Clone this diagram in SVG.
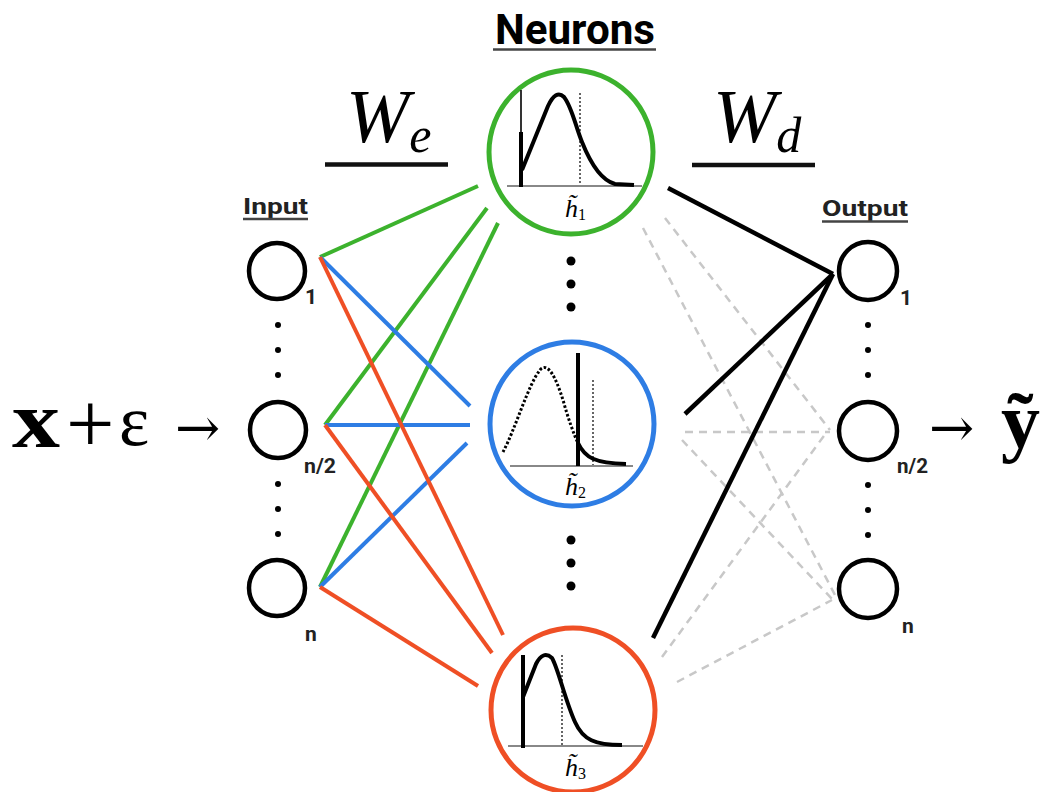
<svg xmlns="http://www.w3.org/2000/svg" width="1044" height="792" viewBox="0 0 1044 792">
  <style>
    .title { font-family: Roboto, "Liberation Sans", sans-serif; font-weight: bold; fill: #000; }
    .sub { font-family: Roboto, "Liberation Sans", sans-serif; font-weight: bold; fill: #222; }
    .math { font-family: "Liberation Serif", serif; font-style: italic; fill: #000; }
    .unit { fill: #fff; stroke: #000; stroke-width: 4.5; }
    .neuron { fill: #fff; stroke-width: 5; }
    .rule { stroke: #111; stroke-width: 4.5; }
    .uline { stroke: #444; stroke-width: 2.5; }
    .enc { stroke-width: 4; stroke-linecap: butt; fill: none; }
    .g { stroke: #3cb22d; }
    .b { stroke: #2e7de4; }
    .r { stroke: #ef4f25; }
    .dec { stroke: #000; stroke-width: 4.5; fill: none; }
    .skip { stroke: #c8c8c8; stroke-width: 2.5; stroke-dasharray: 8 6; fill: none; }
    .axis { stroke: #888; stroke-width: 1.8; }
    .curve { stroke: #000; stroke-width: 4; fill: none; stroke-linejoin: round; }
    .mean { stroke: #333; stroke-width: 1.5; stroke-dasharray: 2 2; }
    .dot { fill: #000; }
  </style>

  <!-- weight labels -->
  <g id="label-we">
    <text class="math" x="346" y="142" font-size="76">W<tspan font-size="50" dy="10">e</tspan></text>
    <line class="rule" x1="325" y1="164.5" x2="448" y2="164.5"/>
  </g>
  <g id="label-wd">
    <text class="math" x="713" y="142" font-size="76">W<tspan font-size="50" dy="10">d</tspan></text>
    <line class="rule" x1="692" y1="165" x2="815" y2="165"/>
  </g>
  <g id="label-neurons">
    <text class="title" x="575" y="44" font-size="42" text-anchor="middle" textLength="160" lengthAdjust="spacingAndGlyphs">Neurons</text>
    <line class="uline" x1="493" y1="49.5" x2="656" y2="49.5" stroke-width="3"/>
  </g>

  <!-- connectors -->
  <g id="connectors">
    <!-- encoder weights -->
    <line class="enc g" x1="320" y1="257" x2="478" y2="186"/>
    <line class="enc g" x1="325" y1="425" x2="487" y2="208"/>
    <line class="enc g" x1="320" y1="587" x2="498" y2="223"/>
    <line class="enc b" x1="320" y1="257" x2="470" y2="406"/>
    <line class="enc b" x1="325" y1="425" x2="470" y2="425"/>
    <line class="enc b" x1="320" y1="587" x2="467" y2="443"/>
    <line class="enc r" x1="320" y1="257" x2="503" y2="635"/>
    <line class="enc r" x1="325" y1="425" x2="492" y2="653"/>
    <line class="enc r" x1="320" y1="587" x2="478" y2="686"/>
    <!-- decoder weights, inactive -->
    <line class="skip" x1="665" y1="218" x2="830" y2="430"/>
    <line class="skip" x1="643" y1="228" x2="835" y2="595"/>
    <line class="skip" x1="685" y1="432" x2="830" y2="432"/>
    <line class="skip" x1="682" y1="440" x2="833" y2="600"/>
    <line class="skip" x1="662" y1="657" x2="826" y2="433"/>
    <line class="skip" x1="677" y1="682" x2="832" y2="600"/>
    <!-- decoder weights, active -->
    <line class="dec" x1="668" y1="188" x2="833" y2="274"/>
    <line class="dec" x1="685" y1="414" x2="833" y2="274"/>
    <line class="dec" x1="653" y1="638" x2="833" y2="274"/>
  </g>

  <!-- input layer -->
  <g id="input">
    <text class="sub" x="243" y="214" font-size="22" textLength="65" lengthAdjust="spacingAndGlyphs">Input</text>
    <line class="uline" x1="243" y1="219" x2="308" y2="219"/>
  </g>
  <g id="input-1">
    <circle class="unit" cx="277" cy="271" r="28"/>
    <text class="sub" x="305" y="304" font-size="21">1</text>
  </g>
  <g id="input-dots-1">
    <circle class="dot" cx="278" cy="325" r="3"/>
    <circle class="dot" cx="278" cy="350" r="3"/>
    <circle class="dot" cx="278" cy="375" r="3"/>
  </g>
  <g id="input-half">
    <circle class="unit" cx="278" cy="430" r="28"/>
    <text class="sub" x="304" y="473" font-size="21" textLength="32" lengthAdjust="spacingAndGlyphs">n/2</text>
  </g>
  <g id="input-dots-2">
    <circle class="dot" cx="278" cy="484" r="3"/>
    <circle class="dot" cx="278" cy="509" r="3"/>
    <circle class="dot" cx="278" cy="534" r="3"/>
  </g>
  <g id="input-n">
    <circle class="unit" cx="277" cy="588" r="28"/>
    <text class="sub" x="305" y="641" font-size="21">n</text>
  </g>

  <!-- noisy input -->
  <g id="input-expr">
    <text x="12" y="447" font-family="Liberation Serif, serif" font-weight="bold" font-size="80" textLength="48" lengthAdjust="spacingAndGlyphs">x</text>
    <text x="66" y="453" font-family="Liberation Serif, serif" font-size="86">+</text>
    <text x="119" y="445" font-family="Liberation Serif, serif" font-size="72">ε</text>
    <text x="175" y="446" font-family="DejaVu Serif, serif" font-size="54">→</text>
  </g>

  <!-- hidden neurons -->
  <g id="neuron-1">
    <circle class="neuron" cx="571" cy="152" r="82" stroke="#3cb22d"/>
    <line class="axis" x1="507" y1="186" x2="642" y2="186"/>
    <line x1="521" y1="90" x2="521" y2="186" stroke="#000" stroke-width="1.6"/>
    <line x1="521" y1="132" x2="521" y2="187" stroke="#000" stroke-width="4"/>
    <line class="mean" x1="580" y1="93" x2="580" y2="185"/>
    <path class="curve" d="M522,170 L548,106 Q556,89 564,97 C572,107 576,128 582,142 C590,162 600,180 615,184 L634,185"/>
    <text class="math" x="565" y="217" font-size="26">h̃<tspan font-style="normal" font-size="16" dy="3">1</tspan></text>
  </g>
  <g id="neuron-dots-1">
    <circle class="dot" cx="571" cy="261" r="4.5"/>
    <circle class="dot" cx="571" cy="284" r="4.5"/>
    <circle class="dot" cx="571" cy="307" r="4.5"/>
  </g>
  <g id="neuron-2">
    <circle class="neuron" cx="572" cy="424" r="82" stroke="#2e7de4"/>
    <line class="axis" x1="510" y1="466" x2="633" y2="466"/>
    <path d="M503,452 C515,430 528,385 540,370 C548,361 556,378 563,400 C568,418 574,435 578,443" fill="none" stroke="#000" stroke-width="3" stroke-dasharray="2.5 2"/>
    <line class="mean" x1="593" y1="380" x2="593" y2="465"/>
    <line x1="578" y1="353" x2="578" y2="466" stroke="#000" stroke-width="4"/>
    <path class="curve" d="M578,443 C585,458 595,463 626,464"/>
    <text class="math" x="565" y="495" font-size="26">h̃<tspan font-style="normal" font-size="16" dy="3">2</tspan></text>
  </g>
  <g id="neuron-dots-2">
    <circle class="dot" cx="571" cy="540" r="4.5"/>
    <circle class="dot" cx="571" cy="563" r="4.5"/>
    <circle class="dot" cx="571" cy="586" r="4.5"/>
  </g>
  <g id="neuron-3">
    <circle class="neuron" cx="573" cy="710" r="82" stroke="#ef4f25"/>
    <line class="axis" x1="508" y1="746" x2="643" y2="746"/>
    <line x1="523" y1="655" x2="523" y2="748" stroke="#000" stroke-width="4"/>
    <line class="mean" x1="562" y1="655" x2="562" y2="745"/>
    <path class="curve" d="M523,697 L536,664 Q543,650 552,658 C558,668 565,700 575,722 C583,740 595,745 622,745"/>
    <text class="math" x="565" y="776" font-size="26">h̃<tspan font-style="normal" font-size="16" dy="3">3</tspan></text>
  </g>

  <!-- output layer -->
  <g id="output">
    <text class="sub" x="822" y="216" font-size="22" textLength="86" lengthAdjust="spacingAndGlyphs">Output</text>
    <line class="uline" x1="822" y1="221.5" x2="908" y2="221.5"/>
  </g>
  <g id="output-1">
    <circle class="unit" cx="868" cy="271" r="29"/>
    <text class="sub" x="900" y="305" font-size="21">1</text>
  </g>
  <g id="output-dots-1">
    <circle class="dot" cx="868" cy="325" r="3"/>
    <circle class="dot" cx="868" cy="350" r="3"/>
    <circle class="dot" cx="868" cy="375" r="3"/>
  </g>
  <g id="output-half">
    <circle class="unit" cx="868" cy="431" r="29"/>
    <text class="sub" x="897" y="473" font-size="21" textLength="31" lengthAdjust="spacingAndGlyphs">n/2</text>
  </g>
  <g id="output-dots-2">
    <circle class="dot" cx="868" cy="485" r="3"/>
    <circle class="dot" cx="868" cy="510" r="3"/>
    <circle class="dot" cx="868" cy="535" r="3"/>
  </g>
  <g id="output-n">
    <circle class="unit" cx="868" cy="589" r="29"/>
    <text class="sub" x="902" y="633" font-size="21">n</text>
  </g>

  <!-- reconstruction -->
  <g id="output-expr">
    <text x="929" y="446" font-family="DejaVu Serif, serif" font-size="54">→</text>
    <text x="1001" y="447" font-family="Liberation Serif, serif" font-weight="bold" font-size="78">ỹ</text>
  </g>
</svg>
